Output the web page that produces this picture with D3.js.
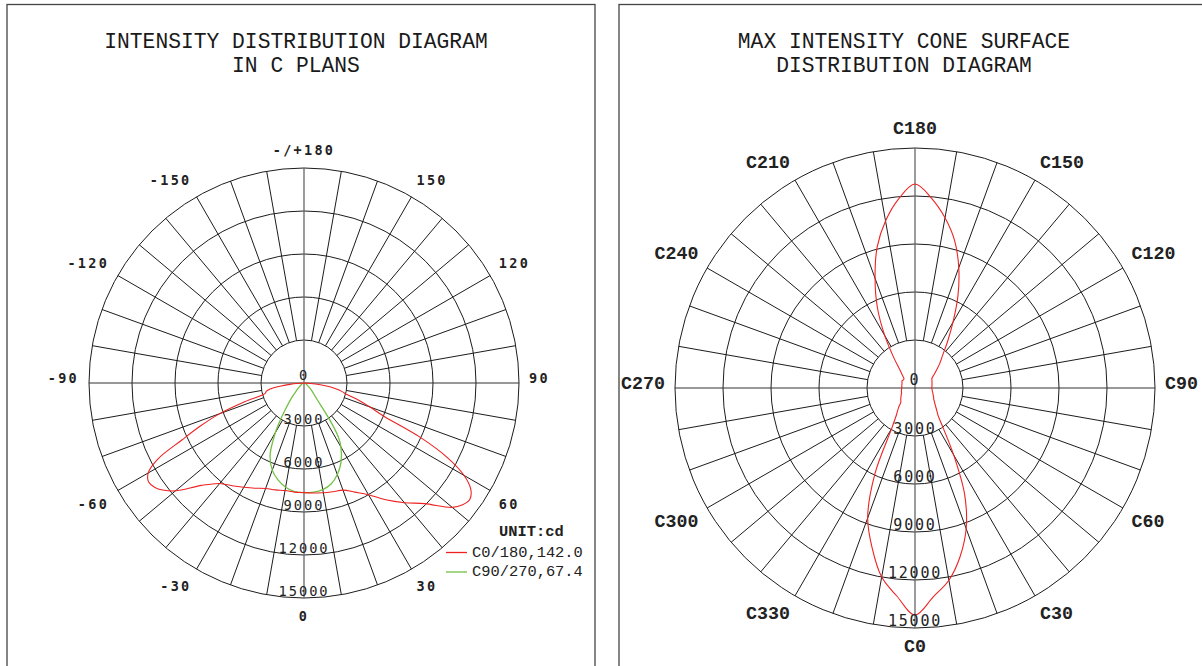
<!DOCTYPE html>
<html>
<head>
<meta charset="utf-8">
<script src="https://cdn.jsdelivr.net/npm/d3@7"></script>
<style>
  body { margin: 0; background: #fff; }
  svg { display: block; }
  .title { font-family: "Courier New", "Liberation Mono", monospace; font-size: 21.3px; fill: #1a1a1a; }
  .gamma-tick { font-family: "DejaVu Sans Mono", monospace; font-size: 13.5px; font-weight: bold; letter-spacing: 2.3px; fill: #222; }
  .cone-tick { font-family: "Courier New", "Liberation Mono", monospace; font-size: 18.3px; font-weight: bold; fill: #222; }
  .ring-label { font-family: "DejaVu Sans Mono", monospace; fill: #222; }
  .legend { font-family: "Courier New", "Liberation Mono", monospace; font-size: 15.4px; fill: #222; }
</style>
</head>
<body>
<svg id="chart" width="1202" height="666"></svg>
<script>
// ring values (cd)
const ringValues = [3000, 6000, 9000, 12000, 15000];

// left chart: gamma ticks
const gammaTicks = [0, 30, 60, 90, 120, 150, 180, -150, -120, -90, -60, -30];
const gammaTickLabels = ["0", "30", "60", "90", "120", "150", "-/+180", "-150", "-120", "-90", "-60", "-30"];

// right chart: C plane ticks
const coneTicks = [0, 30, 60, 90, 120, 150, 180, 210, 240, 270, 300, 330];
const coneTickLabels = ["C0", "C30", "C60", "C90", "C120", "C150", "C180", "C210", "C240", "C270", "C300", "C330"];

// C0/180 plane (negative gamma = C180 side)
const c0Gamma = [-90, -85, -82.5, -80, -77.5, -75, -72.5, -70, -67.5, -65, -62.5, -60, -57.5, -55, -52.5, -50, -45, -40, -35, -30, -25, -20, -15, -10, -5,
  0, 5, 10, 15, 20, 25, 30, 35, 40, 45, 50, 52.5, 55, 57.5, 60, 62.5, 65, 67.5, 70, 72.5, 75, 77.5, 80, 82.5, 85, 90];
const c0Cd = [0, 900, 1700, 2400, 2700, 2800, 4300, 6250, 7800, 9400, 11500, 12550, 12850, 12700, 12300, 11700, 10100, 9150, 8750, 8400, 8100, 7830, 7720, 7620, 7640,
  7650, 7700, 7780, 7850, 7950, 8400, 9000, 9950, 10900, 11900, 13500, 13950, 14130, 13800, 12900, 11300, 8900, 6000, 4900, 4000, 3100, 2700, 2200, 1500, 800, 0];

// C90/270 plane
const c90Gamma = [-90, -75, -60, -50, -45, -40, -35, -32.5, -30, -25, -20, -15, -10, -5,
  0, 5, 10, 15, 20, 25, 30, 32.5, 35, 37.5, 40, 45, 50, 60, 75, 90];
const c90Cd = [0, 80, 200, 450, 720, 1350, 2300, 3100, 4000, 5610, 6470, 7000, 7380, 7600,
  7650, 7640, 7550, 7300, 6800, 6110, 5150, 4450, 3100, 1750, 1200, 780, 480, 200, 80, 0];

// max intensity cone, intensity per C angle
const coneAngle = [0, 5, 10, 15, 20, 25, 30, 35, 40, 45, 50, 55, 60, 65, 70, 75, 80, 85,
  90, 95, 100, 105, 110, 115, 120, 125, 130, 135, 140, 145, 150, 155, 160, 165, 170, 175,
  180, 185, 190, 195, 200, 205, 210, 215, 220, 225, 230, 235, 240, 245, 250, 255, 260, 265,
  270, 275, 280, 285, 290, 295, 300, 305, 310, 315, 320, 325, 330, 335, 340, 345, 350, 355];
const coneCd = [14190, 13100, 12200, 10900, 9350, 7340, 4830, 3100, 2250, 1900, 1650, 1480, 1350, 1280, 1200, 1150, 1100, 1070,
  1050, 1060, 1080, 1100, 1130, 1170, 1220, 1450, 1770, 2200, 2700, 3550, 4750, 6350, 8000, 9550, 10800, 11900,
  12750, 11850, 10600, 9130, 7300, 5570, 3780, 2300, 1450, 1100, 900, 880, 930, 900, 860, 850, 840, 830,
  820, 840, 860, 880, 890, 950, 1000, 1080, 1160, 1250, 1600, 2000, 2900, 5950, 8650, 10350, 12000, 13050];

const legendLabels = ["C0/180,142.0", "C90/270,67.4"];
const legendColors = ["#ee2222", "#74c043"];
const titleLeft = ["INTENSITY DISTRIBUTION DIAGRAM", "IN C PLANS"];
const titleRight = ["MAX INTENSITY CONE SURFACE", "DISTRIBUTION DIAGRAM"];

const svg = d3.select("#chart");
const rad = d => d * Math.PI / 180;

// frames
svg.append("rect").attr("x", 7).attr("y", 4.5).attr("width", 588).attr("height", 720)
  .attr("fill", "none").attr("stroke", "#444").attr("stroke-width", 1.3);
svg.append("rect").attr("x", 619).attr("y", 4.5).attr("width", 620).attr("height", 720)
  .attr("fill", "none").attr("stroke", "#444").attr("stroke-width", 1.3);

function drawTitle(lines, x) {
  svg.append("g").selectAll("text")
    .data(lines)
    .join("text")
    .attr("class", "title")
    .attr("x", x)
    .attr("y", (d, i) => 48 + i * 24)
    .attr("text-anchor", "middle")
    .text(d => d);
}

function drawPolar(opt) {
  const { cx, cy, radius } = opt;
  const r = d3.scaleLinear().domain([0, 15000]).range([0, radius]);
  const g = svg.append("g").attr("transform", `translate(${cx},${cy})`);

  // rings
  g.selectAll(".ring")
    .data(ringValues)
    .join("circle")
    .attr("class", "ring")
    .attr("r", d => r(d))
    .attr("fill", "none")
    .attr("stroke", "#1c1c1c")
    .attr("stroke-width", 1);

  // spokes every 10 deg, from first ring outward
  const spokes = d3.range(0, 360, 10).filter(a => a % 90 !== 0);
  g.selectAll(".spoke")
    .data(spokes)
    .join("line")
    .attr("class", "spoke")
    .attr("x1", a => r(ringValues[0]) * Math.sin(rad(a)))
    .attr("y1", a => r(ringValues[0]) * Math.cos(rad(a)))
    .attr("x2", a => radius * Math.sin(rad(a)))
    .attr("y2", a => radius * Math.cos(rad(a)))
    .attr("stroke", "#1c1c1c")
    .attr("stroke-width", 1);

  // main axes through the centre
  g.append("line").attr("x1", 0).attr("x2", 0).attr("y1", -radius).attr("y2", radius)
    .attr("stroke", "#666").attr("stroke-width", 1.3);
  g.append("line").attr("x1", -radius).attr("x2", radius).attr("y1", 0).attr("y2", 0)
    .attr("stroke", "#333").attr("stroke-width", 1.1);

  // angle labels
  const pad = opt.pad;
  g.selectAll(".tick")
    .data(opt.ticks.map((t, i) => ({ a: t, label: opt.tickLabels[i] })))
    .join("text")
    .attr("class", opt.tickClass)
    .attr("x", d => (radius + pad) * Math.sin(rad(d.a)))
    .attr("y", d => {
      const c = Math.cos(rad(d.a));
      const extra = Math.abs(c) < 0.01 ? -opt.sideLift : opt.vShift * Math.sign(c);
      return (radius + pad) * c + extra;
    })
    .attr("dominant-baseline", "central")
    .attr("text-anchor", d => {
      const s = Math.sin(rad(d.a));
      return Math.abs(s) < 0.01 ? "middle" : (s > 0 ? "start" : "end");
    })
    .text(d => d.label);

  // curves
  opt.series.forEach(s => {
    const pts = s.angle.map((a, i) => ({ a, v: s.cd[i] }));
    const line = d3.lineRadial()
      .angle(d => Math.PI - rad(d.a))
      .radius(d => r(d.v))
      .curve(s.closed ? d3.curveCatmullRomClosed.alpha(0.5) : d3.curveCatmullRom.alpha(0.5));
    g.append("path")
      .datum(pts)
      .attr("d", line)
      .attr("fill", "none")
      .attr("stroke", s.color)
      .attr("stroke-width", s.width);
  });

  // ring labels along the lower axis
  g.selectAll(".ring-label")
    .data([0].concat(ringValues))
    .join("text")
    .attr("class", "ring-label")
    .attr("x", 0)
    .attr("y", d => d === 0 ? -3 : r(d) - 2.5)
    .attr("text-anchor", "middle")
    .style("font-size", opt.ringFont + "px")
    .style("letter-spacing", opt.ringSpacing + "px")
    .text(d => d);
}

drawTitle(titleLeft, 296);
drawTitle(titleRight, 904);

drawPolar({
  cx: 304, cy: 383, radius: 215, pad: 10, vShift: 8, sideLift: 5,
  ticks: gammaTicks, tickLabels: gammaTickLabels, tickClass: "gamma-tick",
  ringFont: 13.7, ringSpacing: 2,
  series: [
    { angle: c90Gamma, cd: c90Cd, color: legendColors[1], width: 1.3 },
    { angle: c0Gamma, cd: c0Cd, color: legendColors[0], width: 1.1 }
  ]
});

drawPolar({
  cx: 915, cy: 388, radius: 240, pad: 10, vShift: 9, sideLift: 4,
  ticks: coneTicks, tickLabels: coneTickLabels, tickClass: "cone-tick",
  ringFont: 15, ringSpacing: 1.8,
  series: [
    { angle: coneAngle, cd: coneCd, color: legendColors[0], width: 1.1, closed: true }
  ]
});

// legend
const legend = svg.append("g");
legend.append("text").attr("class", "legend").attr("x", 499).attr("y", 536)
  .style("font-weight", "bold").text("UNIT:cd");
legendLabels.forEach((lab, i) => {
  const y = 552.5 + i * 19.5;
  legend.append("line").attr("x1", 446).attr("x2", 467).attr("y1", y).attr("y2", y)
    .attr("stroke", legendColors[i]).attr("stroke-width", 1.3);
  legend.append("text").attr("class", "legend").attr("x", 472).attr("y", y + 4)
    .text(lab);
});
</script>
</body>
</html>
